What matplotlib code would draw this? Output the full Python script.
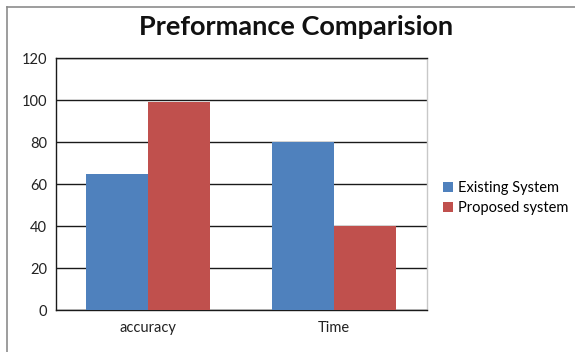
import matplotlib
matplotlib.use("Agg")
import matplotlib.pyplot as plt
from matplotlib.patches import Patch
from matplotlib.lines import Line2D

categories = ["accuracy", "Time"]
existing = [65, 80]
proposed = [99, 40]
yticks = [0, 20, 40, 60, 80, 100, 120]

W, H = 575, 352
fig = plt.figure(figsize=(W / 100, H / 100), dpi=100)
plt.rcParams['font.family'] = ['Lato', 'DejaVu Sans']

# outer chart frame (top and left edges)
fig.add_artist(Line2D([7 / W, 1.0], [1 - 7 / H, 1 - 7 / H], color="#8c8c8c", lw=1.2))
fig.add_artist(Line2D([7 / W, 7 / W], [0, 1 - 7 / H], color="#8c8c8c", lw=1.2))

left, right, top, bottom = 55.5, 427, 58, 310
ax = fig.add_axes([left / W, 1 - bottom / H, (right - left) / W, (bottom - top) / H])

x = list(range(len(categories)))
bw = 1 / 3
ax.bar([i - bw / 2 for i in x], existing, width=bw, color="#4F81BD", zorder=3)
ax.bar([i + bw / 2 for i in x], proposed, width=bw, color="#C0504D", zorder=3)

ax.set_xlim(-0.5, len(categories) - 0.5)
ax.set_ylim(0, 120)
ax.set_yticks(yticks)
ax.set_xticks(x)
ax.set_xticklabels(categories)
ax.yaxis.grid(True, color="#1a1a1a", lw=1.0, zorder=1)
ax.tick_params(axis="both", length=0, labelsize=10.5, colors="#222222")
ax.tick_params(axis="x", pad=8)
ax.tick_params(axis="y", pad=6)

ax.spines["left"].set_color("#1a1a1a")
ax.spines["bottom"].set_color("#1a1a1a")
ax.spines["top"].set_color("#1a1a1a")
ax.spines["right"].set_color("#c8c8c8")
for s in ax.spines.values():
    s.set_linewidth(1.0)

fig.text(296 / W, 1 - 27 / H, "Preformance Comparision", ha="center", va="center",
         fontsize=19.5, fontweight="bold", color="#111111")

handles = [Patch(facecolor="#4F81BD", label="Existing System"),
           Patch(facecolor="#C0504D", label="Proposed system")]
fig.legend(handles=handles, loc="center left", bbox_to_anchor=(443 / W, 1 - 198 / H),
           frameon=False, fontsize=10.5, handlelength=0.7, handleheight=0.7,
           handletextpad=0.3, labelspacing=0.4, borderaxespad=0, borderpad=0)

fig.savefig("out.png", dpi=100, facecolor="white")
